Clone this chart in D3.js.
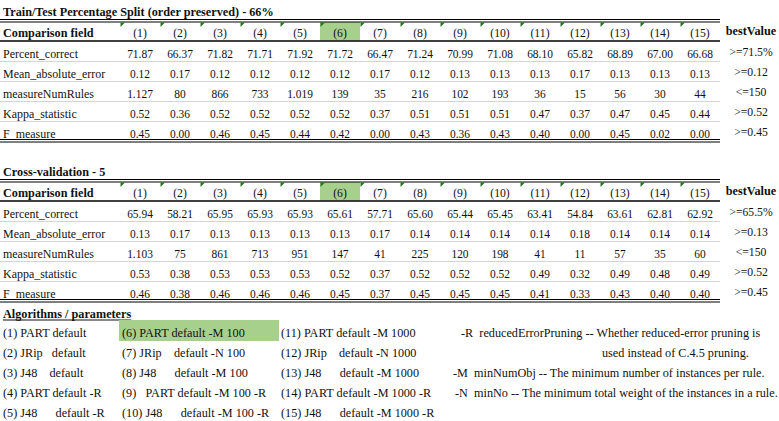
<!DOCTYPE html>
<html><head><meta charset="utf-8">
<script src="https://cdn.jsdelivr.net/npm/d3@7/dist/d3.min.js"></script>
<style>
html,body{margin:0;padding:0;background:#fff;}
svg{display:block;}
</style></head>
<body><svg id="c" width="779" height="421"></svg>
<script>
// ---------- data ----------
const columns = ["(1)","(2)","(3)","(4)","(5)","(6)","(7)","(8)","(9)","(10)","(11)","(12)","(13)","(14)","(15)"];
const fields = ["Percent_correct","Mean_absolute_error","measureNumRules","Kappa_statistic","F_measure"];
const highlightCol = "(6)";

const splitTitle = "Train/Test Percentage Split (order preserved) - 66%";
const splitPercent = [71.87,66.37,71.82,71.71,71.92,71.72,66.47,71.24,70.99,71.08,68.10,65.82,68.89,67.00,66.68];
const splitMAE     = [0.12,0.17,0.12,0.12,0.12,0.12,0.17,0.12,0.13,0.13,0.13,0.17,0.13,0.13,0.13];
const splitRules   = [1127,80,866,733,1019,139,35,216,102,193,36,15,56,30,44];
const splitKappa   = [0.52,0.36,0.52,0.52,0.52,0.52,0.37,0.51,0.51,0.51,0.47,0.37,0.47,0.45,0.44];
const splitF       = [0.45,0.00,0.46,0.45,0.44,0.42,0.00,0.43,0.36,0.43,0.40,0.00,0.45,0.02,0.00];
const splitBest    = [">=71.5%",">=0.12","<=150",">=0.52",">=0.45"];

const cvTitle = "Cross-validation - 5";
const cvPercent = [65.94,58.21,65.95,65.93,65.93,65.61,57.71,65.60,65.44,65.45,63.41,54.84,63.61,62.81,62.92];
const cvMAE     = [0.13,0.17,0.13,0.13,0.13,0.13,0.17,0.14,0.14,0.14,0.14,0.18,0.14,0.14,0.14];
const cvRules   = [1103,75,861,713,951,147,41,225,120,198,41,11,57,35,60];
const cvKappa   = [0.53,0.38,0.53,0.53,0.53,0.52,0.37,0.52,0.52,0.52,0.49,0.32,0.49,0.48,0.49];
const cvF       = [0.46,0.38,0.46,0.46,0.46,0.45,0.37,0.45,0.45,0.45,0.41,0.33,0.43,0.40,0.40];
const cvBest    = [">=65.5%",">=0.13","<=150",">=0.52",">=0.45"];

const algoTitle = "Algorithms / parameters";
const algorithms = [
 "(1) PART default","(2) JRip   default","(3) J48    default","(4) PART default -R","(5) J48      default -R",
 "(6) PART default -M 100","(7) JRip    default -N 100","(8) J48      default -M 100","(9)   PART default -M 100 -R","(10) J48      default -M 100 -R",
 "(11) PART default -M 1000","(12) JRip    default -N 1000","(13) J48      default -M 1000","(14) PART default -M 1000 -R","(15) J48      default -M 1000 -R"
];
const paramNotes = [
 "-R  reducedErrorPruning -- Whether reduced-error pruning is",
 "used instead of C.4.5 pruning.",
 "-M  minNumObj -- The minimum number of instances per rule.",
 "-N  minNo -- The minimum total weight of the instances in a rule."
];

// ---------- drawing ----------
const FONT = '"Liberation Serif","Times New Roman",serif';
const SX = 0.93;
const svg = d3.select("#c").attr("font-family",FONT).attr("font-size",13);
const x = d3.scaleBand().domain(columns).range([120,720]);
const tableRight = 720;
const bestX = 751;
const f2 = d3.format(".2f");
const fThousands = d3.formatLocale({decimal:",",thousands:".",grouping:[3],currency:["",""]}).format(",d");
const fmts = [f2,f2,fThousands,f2,f2];

function txt(g, tx, ty, s, o={}){
  const sx = o.sx || (o.bold ? 0.94 : SX);
  return g.append("text").attr("transform",`translate(${tx},${ty}) scale(${sx},1)`)
    .attr("text-anchor",o.anchor||"start").attr("font-weight",o.bold?"bold":null)
    .attr("fill","#111").attr("xml:space","preserve").style("white-space","pre")
    .style("font-family",FONT).style("font-size","13px").text(s);
}

function section(y0, title, rows, best){
  const g = svg.append("g").attr("transform",`translate(0,${y0})`);
  const y = d3.scaleBand().domain(fields).range([41,141]);
  txt(g,3,16,title,{bold:true});
  g.append("rect").attr("x",x(highlightCol)).attr("y",22).attr("width",x.bandwidth()).attr("height",18.5).attr("fill","#a8d08d");
  [19.5,22].forEach(v=>g.append("line").attr("x1",0).attr("x2",tableRight).attr("y1",v).attr("y2",v).attr("stroke","#000").attr("stroke-width",1.2));
  txt(g,3,37,"Comparison field",{bold:true});
  columns.forEach(c=>txt(g,x(c)+x.bandwidth()/2,37,c,{anchor:"middle",sx:0.9}));
  g.selectAll("path.tri").data(columns).enter().append("path").attr("class","tri")
    .attr("d",d=>{const a=x(d)+0.5,b=22.5;return `M${a},${b}L${a+4.5},${b}L${a},${b+4.5}Z`;}).attr("fill","#247a1e");
  g.append("line").attr("x1",0).attr("x2",tableRight).attr("y1",41).attr("y2",41).attr("stroke","#000").attr("stroke-width",1.6);
  txt(g,bestX,35,"bestValue",{bold:true,anchor:"middle"});
  fields.forEach((fld,i)=>{
    const yy = y(fld);
    if(i>0) g.append("line").attr("x1",0).attr("x2",tableRight).attr("y1",yy+0.5).attr("y2",yy+0.5).attr("stroke","#d4d4d4").attr("stroke-width",1);
    txt(g,3,yy+16.5,fld,{sx:0.92});
    rows[i].forEach((d,j)=>txt(g,x(columns[j])+x.bandwidth()/2,yy+16.5,fmts[i](d),{anchor:"middle",sx:0.88}));
    txt(g,bestX,yy+14.5,best[i],{anchor:"middle",sx:0.9});
  });
  [139.5,142].forEach(v=>g.append("line").attr("x1",0).attr("x2",tableRight).attr("y1",v).attr("y2",v).attr("stroke","#000").attr("stroke-width",1.2));
}
section(0, splitTitle, [splitPercent,splitMAE,splitRules,splitKappa,splitF], splitBest);
section(160, cvTitle, [cvPercent,cvMAE,cvRules,cvKappa,cvF], cvBest);

// algorithms block
const ag = svg.append("g");
const at = txt(ag,3,318,algoTitle,{bold:true});
const tw = at.node().getBBox().width*0.94;
ag.append("line").attr("x1",3).attr("x2",3+tw).attr("y1",320).attr("y2",320).attr("stroke","#111").attr("stroke-width",1);
const ax = d3.scaleOrdinal().domain([0,1,2]).range([3,122,281]);
const ay = d3.scaleLinear().domain([0,4]).range([337,417]);
ag.append("rect").attr("x",119).attr("y",320).attr("width",160).attr("height",21).attr("fill","#a8d08d");
algorithms.forEach((d,i)=>txt(ag,ax(Math.floor(i/5)),ay(i%5),d,{sx:0.94}));
const noteX = [461,602,453,455];
paramNotes.forEach((d,i)=>txt(ag,noteX[i],ay(i),d,{sx:0.94}));
</script></body></html>
